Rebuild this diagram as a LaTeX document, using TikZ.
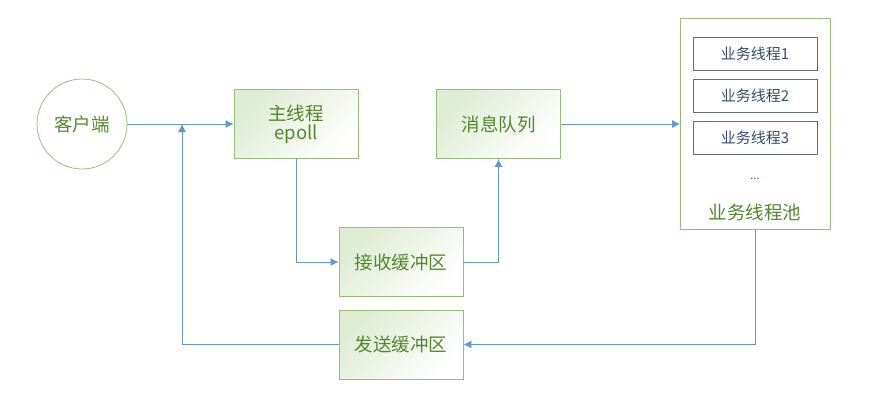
\documentclass[tikz,border=0pt]{standalone}
\usepackage{fontspec}
\setmainfont{Noto Sans CJK SC}
\usepackage{tikz}
\usetikzlibrary{arrows.meta}

\definecolor{boxline}{RGB}{150,190,120}
\definecolor{boxtext}{RGB}{84,135,45}
\definecolor{boxfill}{RGB}{222,236,210}
\definecolor{workline}{RGB}{95,110,130}
\definecolor{worktext}{RGB}{55,75,105}
\definecolor{linkblue}{RGB}{100,150,210}

\tikzset{
    box/.style={draw=boxline, thick, top color=boxfill, bottom color=white, shading angle=45,
        minimum width=124pt, minimum height=69pt, text=boxtext, font=\fontsize{18.5}{22}\selectfont, align=center},
    worker/.style={draw=workline, minimum width=124pt, minimum height=33pt, text=worktext,
        font=\fontsize{15}{18}\selectfont},
    link/.style={draw=linkblue, thick, -{Latex[length=8pt,width=8pt]}}
}

\begin{document}
\begin{tikzpicture}[x=1pt, y=-1pt]
    % Canvas
    \useasboundingbox (0,0) rectangle (869,407);

    % Client and main thread
    \node[draw=boxline, thick, circle, minimum size=90pt, text=boxtext,
        font=\fontsize{18.5}{22}\selectfont] (Client) at (82,124) {客户端};
    \node[box] (MainThread) at (296,124) {主线程\\[-3pt]epoll};

    % Buffers and message queue
    \node[box] (RecvBuffer) at (401,262) {接收缓冲区};
    \node[box] (SendBuffer) at (401,344.5) {发送缓冲区};
    \node[box] (MsgQueue) at (498.5,124) {消息队列};

    % Worker thread pool
    \node[draw=boxline, thick, minimum width=150pt, minimum height=211pt] (Pool) at (755.5,124) {};
    \foreach \i/\y in {1/53.5, 2/95.5, 3/138} {
        \node[worker] (Worker\i) at (755,\y) {业务线程\i};
    }
    \node[text=worktext, font=\fontsize{11}{13}\selectfont] (Dots) at (755,179) {...};
    \node[text=boxtext, font=\fontsize{18.5}{22}\selectfont] (PoolLabel) at (755,212) {业务线程池};

    % Connectors
    \coordinate (Join) at (182,124);
    \draw[link] (Client.east) -- (MainThread.west);
    \draw[link] (MainThread.south) |- (RecvBuffer.west);
    \draw[link] (RecvBuffer.east) -| (MsgQueue.south);
    \draw[link] (MsgQueue.east) -- (Pool.west);
    \draw[link] (Pool.south) |- (SendBuffer.east);
    \draw[link] (SendBuffer.west) -| (Join);
\end{tikzpicture}
\end{document}
